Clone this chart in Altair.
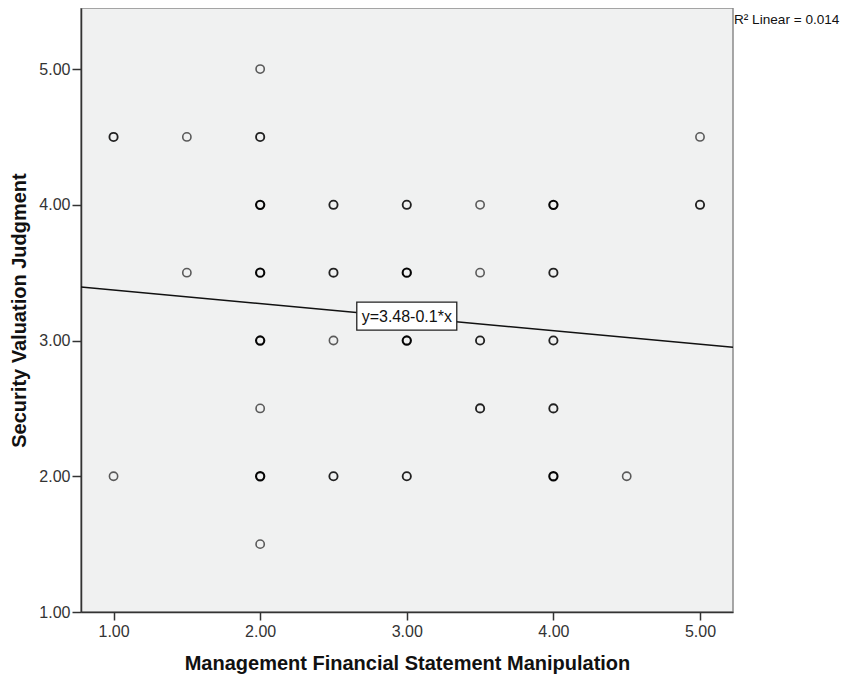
import altair as alt
import pandas as pd

# Scatter points (x, y) and how many cases overlap at each spot (estimated from darkness)
px = [1.0, 1.0,
      1.5, 1.5,
      2.0, 2.0, 2.0, 2.0, 2.0, 2.0, 2.0, 2.0,
      2.5, 2.5, 2.5, 2.5,
      3.0, 3.0, 3.0, 3.0,
      3.5, 3.5, 3.5, 3.5,
      4.0, 4.0, 4.0, 4.0, 4.0,
      4.5,
      5.0, 5.0]
py = [4.5, 2.0,
      4.5, 3.5,
      5.0, 4.5, 4.0, 3.5, 3.0, 2.5, 2.0, 1.5,
      4.0, 3.5, 3.0, 2.0,
      4.0, 3.5, 3.0, 2.0,
      4.0, 3.5, 3.0, 2.5,
      4.0, 3.5, 3.0, 2.5, 2.0,
      2.0,
      4.5, 4.0]
pn = [2, 1,
      1, 1,
      1, 2, 3, 3, 3, 1, 3, 1,
      2, 2, 1, 2,
      2, 3, 3, 2,
      1, 1, 2, 2,
      3, 2, 2, 2, 3,
      1,
      1, 2]

x_domain = [0.778, 5.225]
y_domain = [1.0, 5.45]
tick_vals = [1, 2, 3, 4, 5]

fit_x = [0.778, 5.225]
fit_y = [3.395, 2.950]
eq_label = "y=3.48-0.1*x"
eq_at = [3.0, 3.18]
r2_label = "R\u00b2 Linear = 0.014"

pts = pd.DataFrame({"x": px, "y": py, "n": pn})
line_df = pd.DataFrame({"x": fit_x, "y": fit_y})
eq_df = pd.DataFrame({"x": [eq_at[0]], "y": [eq_at[1]], "t": [eq_label]})
r2_df = pd.DataFrame({"x": [x_domain[1]], "y": [y_domain[1]], "t": [r2_label]})

FONT = "Liberation Sans"

xs = alt.Scale(domain=x_domain, nice=False, zero=False)
ys = alt.Scale(domain=y_domain, nice=False, zero=False)

xaxis = alt.Axis(values=tick_vals, format=".2f", title="Management Financial Statement Manipulation",
                 grid=False, tickSize=8, labelPadding=3, labelFontSize=16, labelColor="#333333",
                 labelFont=FONT, titleFont=FONT, titleFontSize=20, titleFontWeight="bold",
                 titleColor="#111111", titlePadding=14, domainColor="#333333", domainWidth=1.5,
                 tickColor="#333333", tickWidth=1.5)
yaxis = alt.Axis(values=tick_vals, format=".2f", title="Security Valuation Judgment",
                 grid=False, tickSize=9, labelPadding=2, labelFontSize=16, labelColor="#333333",
                 labelFont=FONT, titleFont=FONT, titleFontSize=20, titleFontWeight="bold",
                 titleColor="#111111", titlePadding=9, domainColor="#333333", domainWidth=1.5,
                 tickColor="#333333", tickWidth=1.5)

points = alt.Chart(pts).mark_point(shape="circle", filled=False, size=68).encode(
    x=alt.X("x:Q", scale=xs, axis=xaxis),
    y=alt.Y("y:Q", scale=ys, axis=yaxis),
    stroke=alt.Stroke("n:O", scale=alt.Scale(domain=[1, 2, 3], range=["#5a5a5a", "#222222", "#050505"]), legend=None),
    strokeWidth=alt.StrokeWidth("n:O", scale=alt.Scale(domain=[1, 2, 3], range=[1.6, 2.1, 2.6]), legend=None),
    opacity=alt.value(1),
)

fit = alt.Chart(line_df).mark_line(color="#111111", strokeWidth=1.5, clip=True).encode(
    x=alt.X("x:Q", scale=xs), y=alt.Y("y:Q", scale=ys)
)

box = alt.Chart(eq_df).mark_rect(width=100, height=28, fill="white", stroke="#222222", strokeWidth=1.3).encode(
    x=alt.X("x:Q", scale=xs), y=alt.Y("y:Q", scale=ys)
)
eq_text = alt.Chart(eq_df).mark_text(font=FONT, fontSize=16, color="#111111", align="center", baseline="middle", dy=1).encode(
    x=alt.X("x:Q", scale=xs), y=alt.Y("y:Q", scale=ys), text="t:N"
)

r2 = alt.Chart(r2_df).mark_text(font=FONT, fontSize=13.6, color="#111111", align="left", baseline="top", dx=1, dy=5).encode(
    x=alt.X("x:Q", scale=xs), y=alt.Y("y:Q", scale=ys), text="t:N"
)

chart = alt.layer(fit, points, box, eq_text, r2).properties(
    width=652, height=604,
    autosize=alt.AutoSizeParams(type="none"),
    padding={"left": 73, "top": 0, "right": 110, "bottom": 62},
    background="white",
).configure_view(fill="#F0F1F1", stroke="#8a8a8a", strokeWidth=1.5)

chart.save("out.html", embed_options={"renderer": "svg", "actions": False})
